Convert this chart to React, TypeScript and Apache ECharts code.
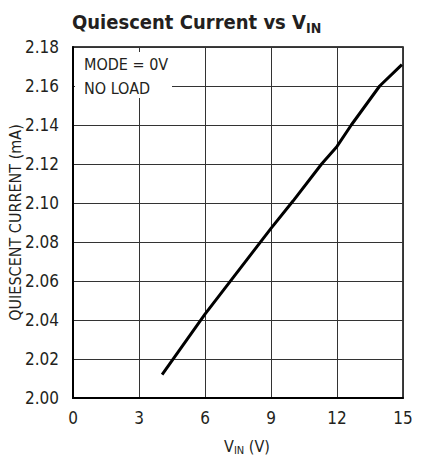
import React, { useEffect, useRef } from "react";
import * as echarts from "echarts";

const vin = [4.05, 6, 9, 10, 11.3, 12, 12.65, 13.94, 14.95];
const current = [2.012, 2.043, 2.087, 2.101, 2.12, 2.129, 2.14, 2.16, 2.171];
const xTicks = [0, 3, 6, 9, 12, 15];
const yMin = 2.0;
const yMax = 2.18;
const yStep = 0.02;
const notes = ["MODE = 0V", "NO LOAD"];

const FONT = "'Liberation Sans Narrow', 'DejaVu Sans Condensed', sans-serif";
const INK = "#231f20";

export default function App() {
  const ref = useRef<HTMLDivElement>(null);
  useEffect(() => {
    if (!ref.current) return;
    const chart = echarts.init(ref.current, null, { renderer: "svg" });
    chart.setOption({
      animation: false,
      backgroundColor: "#fff",
      title: {
        text: "Quiescent Current vs V{sub|IN}",
        left: 67,
        top: 4,
        textStyle: {
          fontFamily: FONT,
          fontWeight: "bold",
          fontSize: 20,
          color: INK,
          rich: {
            sub: { fontFamily: FONT, fontWeight: "bold", fontSize: 14, color: INK, padding: [12, 0, 0, 0] },
          },
        },
      },
      grid: {
        left: 73,
        right: 22,
        top: 47,
        bottom: 62,
        show: true,
        borderColor: "#000",
        borderWidth: 1.5,
        outerBoundsMode: "none",
        containLabel: false,
      },
      xAxis: {
        type: "value",
        min: xTicks[0],
        max: xTicks[xTicks.length - 1],
        interval: 3,
        name: "V{sub|IN} (V)",
        nameLocation: "middle",
        nameGap: 38,
        nameMoveOverlap: false,
        nameTextStyle: {
          fontFamily: FONT,
          fontSize: 16,
          color: INK,
          padding: [0, 0, 0, 18],
          rich: { sub: { fontFamily: FONT, fontSize: 11, color: INK, padding: [9, 0, 0, 0] } },
        },
        axisLine: { show: true, lineStyle: { color: "#000", width: 2 } },
        axisTick: { show: false },
        axisLabel: { fontFamily: FONT, fontSize: 17, color: INK, margin: 11 },
        splitLine: { show: true, lineStyle: { color: "#333", width: 1 } },
      },
      yAxis: {
        type: "value",
        min: yMin,
        max: yMax,
        interval: yStep,
        name: "QUIESCENT CURRENT (mA)",
        nameLocation: "middle",
        nameGap: 50,
        nameMoveOverlap: false,
        nameTextStyle: { fontFamily: FONT, fontSize: 16, color: INK },
        axisLine: { show: true, lineStyle: { color: "#000", width: 2 } },
        axisTick: { show: false },
        axisLabel: {
          fontFamily: FONT,
          fontSize: 17,
          color: INK,
          margin: 14,
          formatter: (v: number) => v.toFixed(2),
        },
        splitLine: { show: true, lineStyle: { color: "#333", width: 1 } },
      },
      graphic: [
        { type: "rect", shape: { x: 75, y: 52, width: 97, height: 46 }, style: { fill: "#fff" }, z: 10 },
        {
          type: "text",
          x: 84,
          y: 52,
          z: 11,
          style: { text: notes.join("\n"), fontFamily: FONT, fontSize: 16, lineHeight: 24, fill: INK },
        },
      ],
      series: [
        {
          type: "line",
          data: vin.map((v, i) => [v, current[i]]),
          showSymbol: false,
          lineStyle: { color: "#000", width: 3 },
          z: 20,
        },
      ],
    });
    return () => chart.dispose();
  }, []);
  return <div ref={ref} style={{ width: 425, height: 460, position: "absolute", left: 0, top: 0 }} />;
}
